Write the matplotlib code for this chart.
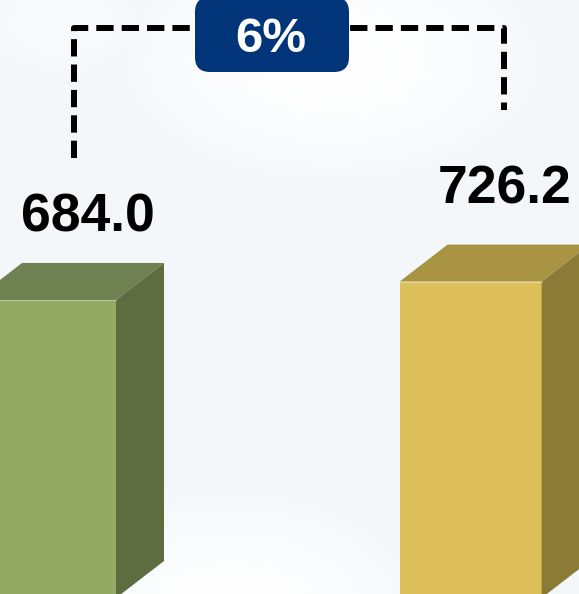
import numpy as np
import matplotlib
matplotlib.use("Agg")
import matplotlib.pyplot as plt
from matplotlib.patches import Polygon, FancyBboxPatch

# ---- data ----
categories = ["Period 1", "Period 2"]
values = [684.0, 726.2]
value_labels = ["684.0", "726.2"]
change_label = "6%"

# ---- style ----
front_colors = ["#92AA64", "#DCBF58"]
top_colors = ["#6F8150", "#A89443"]
side_colors = ["#5D6D3F", "#8C7A37"]
badge_color = "#02347A"
font = ["Liberation Sans", "DejaVu Sans"]

W, H = 579, 594
fig = plt.figure(figsize=(W / 100, H / 100), dpi=100)
ax = fig.add_axes([0, 0, 1, 1])
ax.set_axis_off()

# scales: x unit = 425.6 px, y: 0.4357 px per value unit, baseline at pixel 598
xpx = 425.6
ypx = 0.4357
x0 = -45 / xpx
x1 = (W - 45) / xpx
y0 = (598 - H) / ypx
y1 = 598 / ypx
ax.set_xlim(x0, x1)
ax.set_ylim(y0, y1)

def px2x(p):
    return x0 + p / W * (x1 - x0)

def px2y(p):
    return y1 - p / H * (y1 - y0)

# background gradient
gy, gx = np.mgrid[0:H:4, 0:W:4]
base = np.array([0.935, 0.952, 0.972])
white = np.array([1.0, 1.0, 1.0])
w = np.zeros(gx.shape)
w = np.maximum(w, np.exp(-(((gx - 330) / 230) ** 2 + ((gy - 60) / 130) ** 2)))
w = np.maximum(w, np.exp(-(((gx - 230) / 210) ** 2 + ((gy - 620) / 140) ** 2)))
w = np.maximum(w, np.exp(-(((gx - 60) / 140) ** 2 + ((gy - 20) / 90) ** 2)) * 0.6)
w = np.maximum(w, 0.35)
img = base[None, None, :] * (1 - w[..., None]) + white[None, None, :] * w[..., None]
ax.imshow(img, extent=[x0, x1, y0, y1], aspect="auto", zorder=0, interpolation="bilinear")

# bars
xs = np.arange(len(values))
width = 142 / xpx
dx = 48 / xpx
dy = 37 / ypx
bars = ax.bar(xs, values, width=width, color=front_colors, zorder=3, linewidth=0)
for i, b in enumerate(bars):
    l = b.get_x()
    r = l + b.get_width()
    t = b.get_height()
    top = Polygon([(l, t), (r, t), (r + dx, t + dy), (l + dx, t + dy)],
                  closed=True, facecolor=top_colors[i], edgecolor="none", zorder=3)
    side = Polygon([(r, 0), (r + dx, dy), (r + dx, t + dy), (r, t)],
                   closed=True, facecolor=side_colors[i], edgecolor="none", zorder=3)
    ax.add_patch(top)
    ax.add_patch(side)
    ax.plot([l, r], [t, t], color="white", alpha=0.35, lw=0.8, zorder=4)

# value labels
label_dx = [0.102, 0.080]
label_dy = [157, 180]
for i, v in enumerate(values):
    ax.text(xs[i] + label_dx[i], v + label_dy[i], value_labels[i], ha="center", va="baseline",
            fontsize=38.5, fontweight="bold", family=font, color="black", zorder=5)

# bracket
bx = [xs[0] + 0.068, xs[1] + 0.078]
by_bottom = [values[0] + 326, values[1] + 394]
by_top = px2y(28)
ax.plot([bx[0], bx[0], bx[1], bx[1]], [by_bottom[0], by_top, by_top, by_bottom[1]],
        color="black", lw=4.3, linestyle=(0, (2.9, 1.35)), solid_joinstyle="miter",
        dash_capstyle="butt", zorder=4)

# badge
bl, br = px2x(195), px2x(349)
bt, bb = px2y(-3), px2y(72)
badge = FancyBboxPatch((bl, bb), br - bl, bt - bb,
                       boxstyle="round,pad=0,rounding_size=%f" % (15 / xpx),
                       mutation_aspect=(1 / ypx) / (1 / xpx),
                       facecolor=badge_color, edgecolor="none", zorder=5)
ax.add_patch(badge)
ax.text(px2x(271), px2y(51.5), change_label, ha="center", va="baseline",
        fontsize=35.5, fontweight="bold", family=font, color="white", zorder=6)

fig.savefig("out.png", dpi=100)
